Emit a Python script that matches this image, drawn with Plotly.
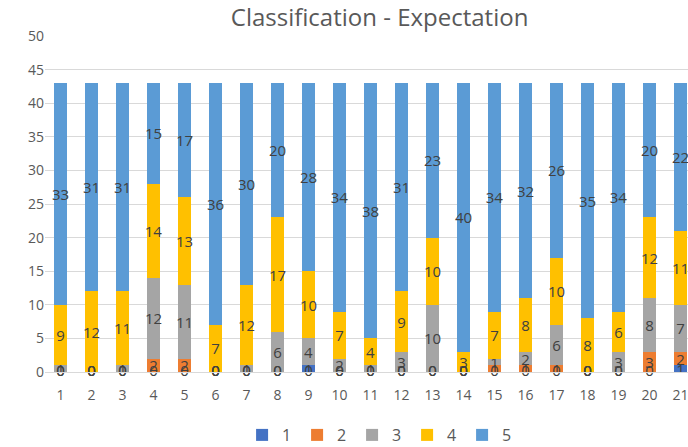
import plotly.graph_objects as go

categories = list(range(1, 22))
s1 = [0, 0, 0, 0, 0, 0, 0, 0, 1, 0, 0, 0, 0, 0, 0, 0, 0, 0, 0, 0, 1]
s2 = [0, 0, 0, 2, 2, 0, 0, 0, 0, 0, 0, 0, 0, 0, 1, 1, 1, 0, 0, 3, 2]
s3 = [1, 0, 1, 12, 11, 0, 1, 6, 4, 2, 1, 3, 10, 0, 1, 2, 6, 0, 3, 8, 7]
s4 = [9, 12, 11, 14, 13, 7, 12, 17, 10, 7, 4, 9, 10, 3, 7, 8, 10, 8, 6, 12, 11]
s5 = [33, 31, 31, 15, 17, 36, 30, 20, 28, 34, 38, 31, 23, 40, 34, 32, 26, 35, 34, 20, 22]
series_names = ["1", "2", "3", "4", "5"]
series = [s1, s2, s3, s4, s5]
colors = ["#4472C4", "#ED7D31", "#A5A5A5", "#FFC000", "#5B9BD5"]
y_ticks = list(range(0, 51, 5))

FONT = "Open Sans"
W, H = 688, 447
fig = go.Figure()
for name, vals, col in zip(series_names, series, colors):
    fig.add_trace(go.Bar(
        x=categories, y=vals, name=name, marker_color=col,
        marker_line_width=0,
        text=[str(v) if v != 0 else "" for v in vals],
        textposition="inside", insidetextanchor="middle",
        constraintext="none", textangle=0,
        textfont=dict(family=FONT, size=15, color="#404040"),
    ))

# zero labels (drawn at the baseline like the original)
zx, zt = [], []
for vals in series:
    for c, v in zip(categories, vals):
        if v == 0:
            zx.append(c)
            zt.append("0")
fig.add_trace(go.Scatter(
    x=zx, y=[0] * len(zx), mode="text", text=zt, showlegend=False,
    textfont=dict(family=FONT, size=15, color="#404040"),
    hoverinfo="skip", cliponaxis=False,
))

fig.update_layout(
    width=W, height=H,
    barmode="stack", bargap=0.58,
    plot_bgcolor="white", paper_bgcolor="white",
    margin=dict(l=45, r=0, t=36, b=75, autoexpand=False),
    title=dict(text="Classification - Expectation", x=358 / W, xanchor="center",
               xref="paper", y=1 - 18 / H, yanchor="middle",
               font=dict(family=FONT, size=24, color="#595959")),
    xaxis=dict(tickmode="array", tickvals=categories, ticktext=[str(c) for c in categories],
               range=[0.5, 21.24], showgrid=False, showline=True, linecolor="#D9D9D9",
               automargin=False, ticklabelstandoff=10, ticklabeloverflow="allow",
               tickfont=dict(family=FONT, size=14, color="#595959"), ticks=""),
    yaxis=dict(range=[0, 50], tickvals=y_ticks, showgrid=True, gridcolor="#D9D9D9",
               zeroline=False, showline=False, ticks="", automargin=False,
               tickfont=dict(family=FONT, size=14, color="#595959")),
    legend=dict(orientation="h", x=358 / W, xanchor="center",
                y=-(435 - 372) / 336, yanchor="middle",
                traceorder="normal", itemwidth=30, entrywidth=10, entrywidthmode="pixels",
                font=dict(family=FONT, size=16, color="#595959")),
    showlegend=True,
)

fig.write_html("out.html", config={"displayModeBar": False},
               post_script="document.body.style.margin='0';")
